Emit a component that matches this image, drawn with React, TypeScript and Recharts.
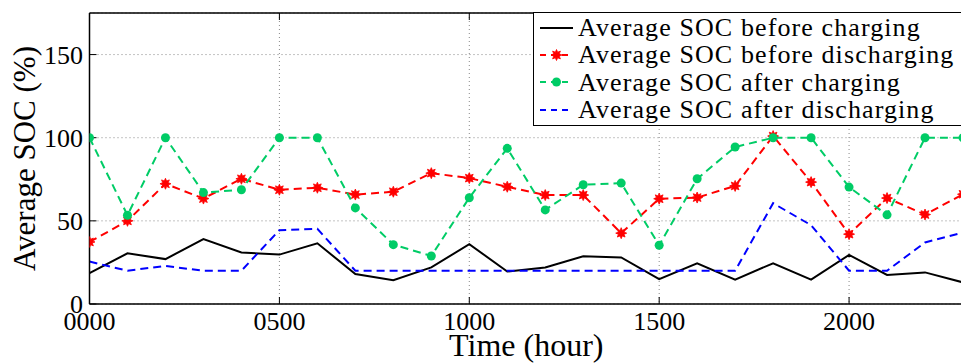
import React from 'react';
import { LineChart, Line, XAxis, YAxis, CartesianGrid, Legend, Label } from 'recharts';

const hours = [0, 100, 200, 300, 400, 500, 600, 700, 800, 900, 1000, 1100, 1200, 1300, 1400, 1500, 1600, 1700, 1800, 1900, 2000, 2100, 2200, 2300];
const beforeCharging = [18.5, 30.5, 27, 39, 31, 29.7, 36.5, 18, 14.3, 22, 36, 19.5, 22, 28.7, 28, 15, 24.5, 14.7, 24.5, 14.7, 29.5, 17.5, 19, 13];
const beforeDischarging = [37.3, 50, 72.3, 63.4, 75.3, 68.7, 69.9, 65.8, 67.5, 78.7, 75.7, 70.5, 65.5, 65.5, 42.6, 63.3, 64, 71, 101, 73.3, 42, 63.7, 53.8, 66];
const afterCharging = [100, 53.4, 100, 67, 68.7, 100, 100, 57.8, 35.7, 28.9, 63.9, 93.6, 56.6, 71.7, 72.7, 35.3, 75.3, 94.4, 100, 100, 70.3, 53.6, 100, 100];
const afterDischarging = [25.5, 20, 22.9, 20, 20, 44.4, 45.2, 20, 20, 20, 20, 20, 20, 20, 20, 20, 20, 20, 60.6, 47.4, 20, 20, 37, 43];

const xTicks = [0, 500, 1000, 1500, 2000];
const yTicks = [0, 50, 100, 150];
const seriesNames = [
  'Average SOC before charging',
  'Average SOC before discharging',
  'Average SOC after charging',
  'Average SOC after discharging',
];
const xTitle = 'Time (hour)';
const yTitle = 'Average SOC (%)';

const RED = '#ff0000';
const GREEN = '#00cc66';
const BLUE = '#0000ff';
const FONT = "'Liberation Serif', 'Times New Roman', Times, Tinos, 'Nimbus Roman', 'Noto Serif', 'DejaVu Serif', serif";

const data = hours.map((h, i) => ({
  hour: h,
  bc: beforeCharging[i],
  bd: beforeDischarging[i],
  ac: afterCharging[i],
  ad: afterDischarging[i],
}));

function starPoints(cx: number, cy: number, ro: number, ri: number, n: number) {
  const pts: string[] = [];
  for (let k = 0; k < n * 2; k++) {
    const r = k % 2 === 0 ? ro : ri;
    const a = (Math.PI * k) / n - Math.PI / 2;
    pts.push(`${cx + r * Math.cos(a)},${cy + r * Math.sin(a)}`);
  }
  return pts.join(' ');
}

const StarDot = (props: any) => {
  const { cx, cy, index } = props;
  if (cx == null || cy == null) return <g key={`s${index}`} />;
  return <polygon key={`s${index}`} points={starPoints(cx, cy, 5.5, 3, 8)} fill={RED} stroke={RED} strokeWidth={0.8} />;
};

const CircleDot = (props: any) => {
  const { cx, cy, index } = props;
  if (cx == null || cy == null) return <g key={`c${index}`} />;
  return <circle key={`c${index}`} cx={cx} cy={cy} r={4.5} fill={GREEN} />;
};

const NoTick = () => null;

const LegendBox = () => {
  const samples = [
    { color: '#000', dash: undefined as string | undefined, marker: 'none' },
    { color: RED, dash: '6 5', marker: 'star' },
    { color: GREEN, dash: '6 5', marker: 'circle' },
    { color: BLUE, dash: '6 5', marker: 'none' },
  ];
  return (
    <div
      style={{
        border: '1.5px solid #000',
        background: '#fff',
        boxSizing: 'border-box',
        width: 432,
        height: 114,
        paddingTop: 1,
        fontFamily: FONT,
      }}
    >
      {seriesNames.map((name, i) => (
        <div key={name} style={{ display: 'flex', alignItems: 'center', height: 27.3 }}>
          <svg width={44} height={20} style={{ flex: 'none' }}>
            <line x1={6} y1={10} x2={39} y2={10} stroke={samples[i].color} strokeWidth={2} strokeDasharray={samples[i].dash} />
            {samples[i].marker === 'star' && (
              <polygon points={starPoints(22.5, 10, 5.5, 3, 8)} fill={RED} stroke={RED} strokeWidth={0.8} />
            )}
            {samples[i].marker === 'circle' && <circle cx={22.5} cy={10} r={4.5} fill={GREEN} />}
          </svg>
          <span style={{ fontFamily: FONT, fontSize: 26, letterSpacing: 1.1, color: '#000', whiteSpace: 'nowrap', lineHeight: '27px' }}>{name}</span>
        </div>
      ))}
    </div>
  );
};

const YTitle = (props: any) => {
  const vb = props.viewBox || {};
  const cy = vb.y + vb.height / 2;
  const x = 35;
  return (
    <text
      x={x}
      y={cy}
      transform={`rotate(-90, ${x}, ${cy})`}
      textAnchor="middle"
      style={{ fontFamily: FONT }}
      fontSize={31}
      fill="#000"
    >
      {yTitle}
    </text>
  );
};

const XTitle = (props: any) => {
  const vb = props.viewBox || {};
  const cx = vb.x + vb.width / 2;
  return (
    <text x={cx} y={356} textAnchor="middle" style={{ fontFamily: FONT }} fontSize={32} fill="#000">
      {xTitle}
    </text>
  );
};

const tickStyle = { fontSize: 26, fill: '#000', fontFamily: FONT, style: { fontFamily: FONT } };

export default function App() {
  return (
    <div style={{ position: 'absolute', left: 0, top: 0, width: 961, height: 363, overflow: 'hidden', background: '#fff', fontFamily: FONT }}>
      <LineChart width={975} height={363} data={data} margin={{ top: 12, right: 11, bottom: 0, left: 0 }} style={{ fontFamily: FONT }}>
        <CartesianGrid stroke="#888" strokeDasharray="1 3" strokeWidth={1} />
        <XAxis
          dataKey="hour"
          type="number"
          domain={[0, 2300]}
          ticks={xTicks}
          allowDataOverflow
          tickFormatter={(v: number) => String(v).padStart(4, '0')}
          tickSize={-7}
          tickMargin={15}
          height={59}
          tick={tickStyle}
          axisLine={{ stroke: '#000', strokeWidth: 1.5 }}
          tickLine={{ stroke: '#000', strokeWidth: 1 }}
        >
          <Label content={<XTitle />} />
        </XAxis>
        <XAxis
          xAxisId="top"
          orientation="top"
          dataKey="hour"
          type="number"
          domain={[0, 2300]}
          ticks={xTicks}
          height={1}
          tickSize={-7}
          tick={NoTick}
          axisLine={{ stroke: '#000', strokeWidth: 1.5 }}
          tickLine={{ stroke: '#000', strokeWidth: 1 }}
        />
        <YAxis
          type="number"
          domain={[0, 175]}
          ticks={yTicks}
          allowDataOverflow
          width={89.5}
          tickSize={-7}
          tickMargin={13.5}
          tick={tickStyle}
          axisLine={{ stroke: '#000', strokeWidth: 1.5 }}
          tickLine={{ stroke: '#000', strokeWidth: 1 }}
        >
          <Label content={<YTitle />} />
        </YAxis>
        <YAxis
          yAxisId="right"
          orientation="right"
          type="number"
          domain={[0, 175]}
          ticks={yTicks}
          width={1}
          tickSize={-7}
          tick={NoTick}
          axisLine={{ stroke: '#000', strokeWidth: 1.5 }}
          tickLine={{ stroke: '#000', strokeWidth: 1 }}
        />
        <Legend
          layout="vertical"
          align="center"
          verticalAlign="middle"
          wrapperStyle={{ left: 533, top: 12, width: 432, height: 114 }}
          content={<LegendBox />}
        />
        <Line type="linear" dataKey="bc" name={seriesNames[0]} stroke="#000" strokeWidth={2} dot={false} isAnimationActive={false} />
        <Line type="linear" dataKey="bd" name={seriesNames[1]} stroke={RED} strokeWidth={2} strokeDasharray="8 5" dot={StarDot} isAnimationActive={false} />
        <Line type="linear" dataKey="ac" name={seriesNames[2]} stroke={GREEN} strokeWidth={2} strokeDasharray="8 5" dot={CircleDot} isAnimationActive={false} />
        <Line type="linear" dataKey="ad" name={seriesNames[3]} stroke={BLUE} strokeWidth={2} strokeDasharray="8 5" dot={false} isAnimationActive={false} />
      </LineChart>
    </div>
  );
}
